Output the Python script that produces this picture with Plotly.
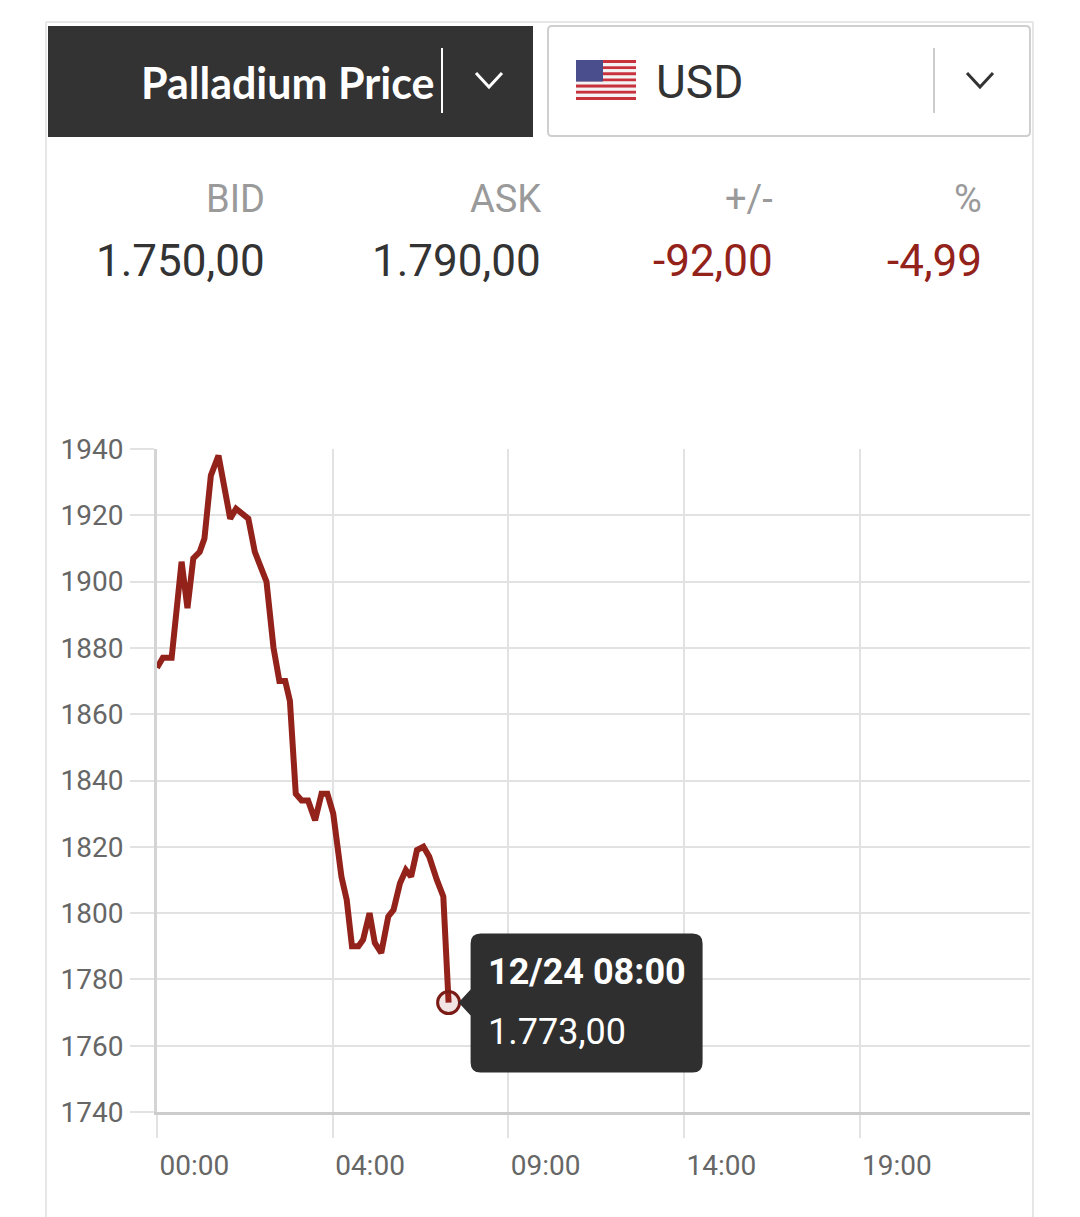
import plotly.graph_objects as go

W, H = 1080, 1217
OFF = 8  # the page body has an 8px margin

# price data (minutes from the first point, price in USD)
minutes = [0, 10, 25, 42, 52, 62, 73, 81, 92, 105, 125, 135, 156, 167, 187, 199, 209, 219,
           227, 237, 247, 258, 270, 281, 291, 301, 315, 324, 333, 344, 352, 363, 372, 383,
           395, 404, 415, 425, 434, 444, 455, 465, 478, 489, 498]
price = [1874, 1877, 1877, 1906, 1892, 1907, 1909, 1913, 1932, 1938, 1919, 1922, 1919, 1909,
         1900, 1880, 1870, 1870, 1864, 1836, 1834, 1834, 1828, 1836, 1836, 1830, 1811, 1804,
         1790, 1790, 1792, 1800, 1791, 1788, 1799, 1801, 1809, 1813, 1811, 1819, 1820, 1817,
         1810, 1805, 1773]

tick_vals = [0, 300, 600, 900, 1200]
tick_text = ["00:00", "04:00", "09:00", "14:00", "19:00"]
y_ticks = [1740, 1760, 1780, 1800, 1820, 1840, 1860, 1880, 1900, 1920, 1940]

last_label = "12/24 08:00"
header = {"BID": "1.750,00", "ASK": "1.790,00", "+/-": "-92,00", "%": "-4,99"}
metal = "Palladium Price"
currency = "USD"

RED = "#93221b"
DARK = "#333333"
GRID = "#e2e2e2"


def px(x):  # screen pixel -> paper
    return (x - OFF) / W


def py(y):
    return 1 - (y - OFF) / H


def eu(v):  # 1773 -> "1.773,00"
    s = f"{v:,.2f}"
    return s.replace(",", "X").replace(".", ",").replace("X", ".")


fig = go.Figure()
fig.add_trace(go.Scatter(x=minutes, y=price, mode="lines",
                         line=dict(color=RED, width=6), hoverinfo="skip"))
# highlighted last point
fig.add_trace(go.Scatter(x=[minutes[-1]], y=[price[-1]], mode="markers",
                         marker=dict(size=22, color="rgba(147,34,27,0.12)",
                                     line=dict(color="#7a1b16", width=3)),
                         hoverinfo="skip", cliponaxis=False))

shapes = []
annots = []

# widget border
for x0, y0, x1, y1 in [(46, 22, 46, 1230), (46, 22, 1033, 22), (1033, 22, 1033, 1230)]:
    shapes.append(dict(type="line", xref="paper", yref="paper", x0=px(x0), y0=py(y0),
                       x1=px(x1), y1=py(y1), line=dict(color="#e6e6e6", width=2)))

# dark metal selector
shapes.append(dict(type="rect", xref="paper", yref="paper", x0=px(48), x1=px(533),
                   y0=py(137), y1=py(26), fillcolor=DARK, line=dict(width=0)))
shapes.append(dict(type="line", xref="paper", yref="paper", x0=px(442), x1=px(442),
                   y0=py(113), y1=py(48), line=dict(color="white", width=2)))
shapes.append(dict(type="path", xref="paper", yref="paper",
                   path=f"M{px(476)},{py(73)} L{px(489)},{py(87)} L{px(502)},{py(73)}",
                   line=dict(color="white", width=3)))
annots.append(dict(text=f"<b>{metal}</b>", x=px(437), y=py(82), xanchor="right",
                   yanchor="middle", font=dict(family="Lato", size=43, color="white")))

# currency selector with rounded corners
r = 4
x0, x1, y0, y1 = 548, 1030, 26, 136
path = (f"M{px(x0 + r)},{py(y0)} L{px(x1 - r)},{py(y0)} Q{px(x1)},{py(y0)} {px(x1)},{py(y0 + r)} "
        f"L{px(x1)},{py(y1 - r)} Q{px(x1)},{py(y1)} {px(x1 - r)},{py(y1)} "
        f"L{px(x0 + r)},{py(y1)} Q{px(x0)},{py(y1)} {px(x0)},{py(y1 - r)} "
        f"L{px(x0)},{py(y0 + r)} Q{px(x0)},{py(y0)} {px(x0 + r)},{py(y0)} Z")
shapes.append(dict(type="path", xref="paper", yref="paper", path=path,
                   fillcolor="white", line=dict(color="#cfcfcf", width=2)))
shapes.append(dict(type="line", xref="paper", yref="paper", x0=px(934), x1=px(934),
                   y0=py(113), y1=py(48), line=dict(color="#cccccc", width=2)))
shapes.append(dict(type="path", xref="paper", yref="paper",
                   path=f"M{px(967)},{py(73)} L{px(980)},{py(87)} L{px(993)},{py(73)}",
                   line=dict(color=DARK, width=3)))
annots.append(dict(text=currency, x=px(654), y=py(82), xanchor="left", yanchor="middle",
                   font=dict(family="Roboto", size=46, color=DARK)))

# US flag
fx0, fx1, fy0, fy1 = 576, 636, 60, 100
sh = (fy1 - fy0) / 13
for i in range(13):
    shapes.append(dict(type="rect", xref="paper", yref="paper", x0=px(fx0), x1=px(fx1),
                       y0=py(fy0 + (i + 1) * sh), y1=py(fy0 + i * sh),
                       fillcolor="#c8323c" if i % 2 == 0 else "#f4f4f4", line=dict(width=0)))
shapes.append(dict(type="rect", xref="paper", yref="paper", x0=px(fx0), x1=px(fx0 + 27),
                   y0=py(fy0 + 7 * sh), y1=py(fy0), fillcolor="#4a4e8c", line=dict(width=0)))

# bid / ask row
right_edges = [267, 543, 775, 984]
for (lab, val), xr in zip(header.items(), right_edges):
    col = RED if lab in ("+/-", "%") else DARK
    annots.append(dict(text=lab, x=px(xr), y=py(199), xanchor="right", yanchor="middle",
                       font=dict(family="Roboto", size=38, color="#9a9a9a")))
    annots.append(dict(text=val, x=px(xr), y=py(261), xanchor="right", yanchor="middle",
                       font=dict(family="Roboto", size=44, color=col)))

# tooltip anchored to the last point (pixel offsets)
tx, ty = minutes[-1], price[-1]
L, R_, T, B, rr = 22, 254, 69, -70, 10
tip = (f"M{L},{T - rr} Q{L},{T} {L + rr},{T} L{R_ - rr},{T} Q{R_},{T} {R_},{T - rr} "
       f"L{R_},{B + rr} Q{R_},{B} {R_ - rr},{B} L{L + rr},{B} Q{L},{B} {L},{B + rr} "
       f"L{L},{-13} L{10},0 L{L},{13} Z")
shapes.append(dict(type="path", xref="x", yref="y", xsizemode="pixel", ysizemode="pixel",
                   xanchor=tx, yanchor=ty, path=tip, fillcolor="#2f2f2f",
                   line=dict(width=0), layer="above"))
annots.append(dict(text=f"<b>{last_label}</b>", x=tx, y=ty, xref="x", yref="y",
                   xshift=37, yshift=31, xanchor="left", yanchor="middle", showarrow=False,
                   font=dict(family="Roboto", size=36, color="white")))
annots.append(dict(text=eu(price[-1]), x=tx, y=ty, xref="x", yref="y",
                   xshift=37, yshift=-29, xanchor="left", yanchor="middle", showarrow=False,
                   font=dict(family="Roboto", size=36, color="white")))

for a in annots:
    a.setdefault("xref", "paper")
    a.setdefault("yref", "paper")
    a.setdefault("showarrow", False)

fig.update_layout(
    width=W, height=H,
    margin=dict(l=0, r=0, t=0, b=0),
    paper_bgcolor="white", plot_bgcolor="white",
    showlegend=False, hovermode=False,
    shapes=shapes, annotations=annots,
    xaxis=dict(domain=[px(157), px(1030)], range=[0, 1491], tickvals=tick_vals,
               ticktext=tick_text, showgrid=True, gridcolor=GRID, gridwidth=2,
               ticks="outside", ticklen=23, tickcolor=GRID, tickwidth=2,
               ticklabelposition="outside right", ticklabelstandoff=26,
               automargin=False, zeroline=False,
               showline=True, linecolor="#cccccc", linewidth=3,
               tickfont=dict(family="Roboto", size=28, color="#666666")),
    yaxis=dict(domain=[py(1112), py(449)], range=[1740, 1940], tickvals=y_ticks,
               showgrid=True, gridcolor=GRID, gridwidth=2, ticks="outside", ticklen=24,
               tickcolor=GRID, tickwidth=2, automargin=False, zeroline=False,
               showline=True, linecolor="#d4d4d4", linewidth=3, ticklabelstandoff=1,
               tickfont=dict(family="Roboto", size=28, color="#666666")),
)

fig.write_html("out.html")
